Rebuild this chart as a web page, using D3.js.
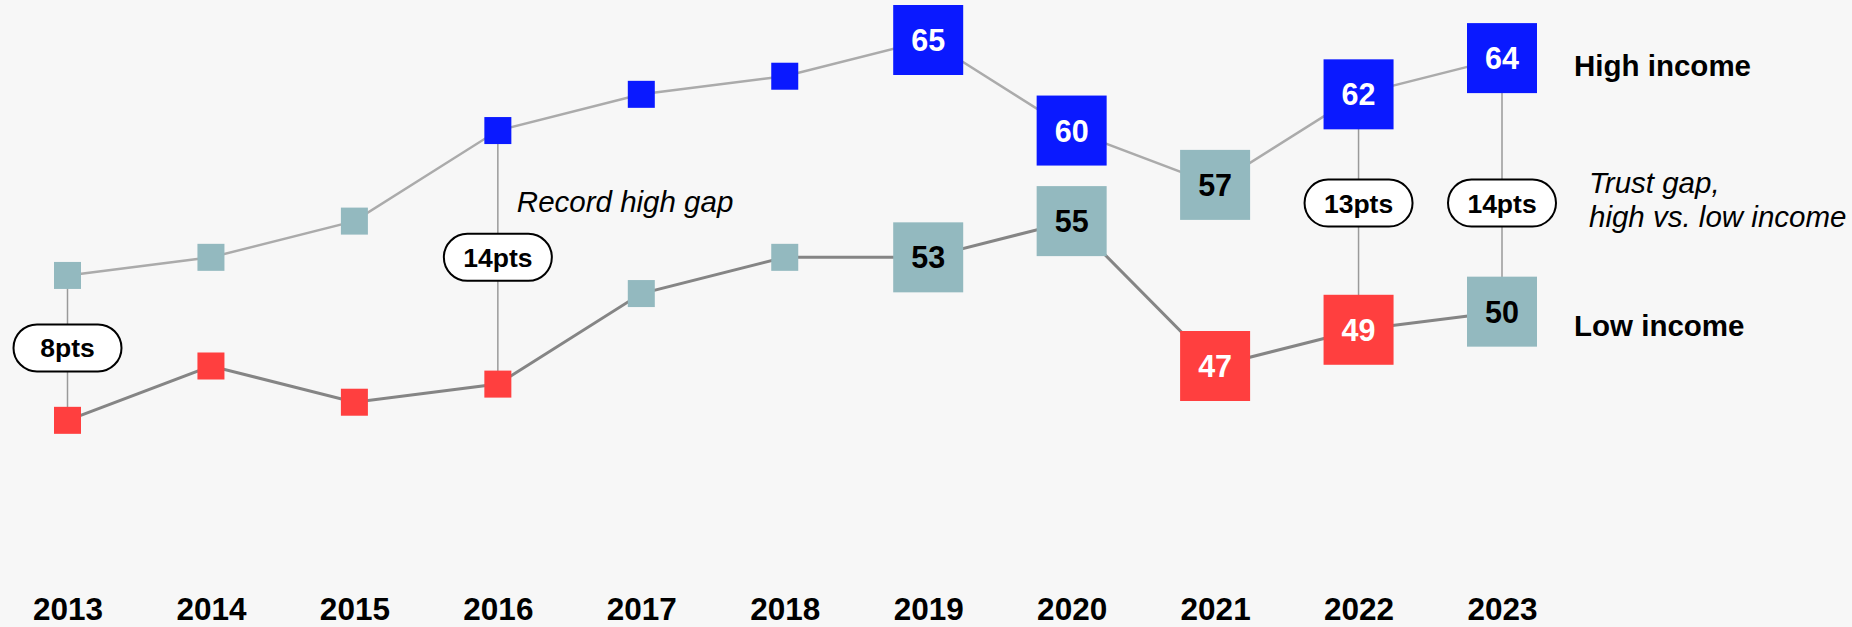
<!DOCTYPE html>
<html>
<head>
<meta charset="utf-8">
<script src="https://cdn.jsdelivr.net/npm/d3@7"></script>
<style>
  html, body { margin: 0; padding: 0; background: #f7f7f7; }
  svg { display: block; font-family: "Liberation Sans", Arial, sans-serif; }
</style>
</head>
<body>
<svg id="chart"></svg>
<script>
// data
const years = [2013, 2014, 2015, 2016, 2017, 2018, 2019, 2020, 2021, 2022, 2023];
const highIncome = [52, 53, 55, 60, 62, 63, 65, 60, 57, 62, 64];
const lowIncome = [44, 47, 45, 46, 51, 53, 53, 55, 47, 49, 50];
const seriesNames = ['High income', 'Low income'];
const gapYears = [2013, 2016, 2022, 2023];
const gapLabelLevel = [48, 53, 56, 56];   // value level where the pill sits
const valueLabelFrom = 2019;              // years from here get big labelled squares
const trustBreaks = [50, 60];             // distrust < 50 <= neutral < 60 <= trust

const width = 1852, height = 627;

const svg = d3.select('#chart')
	.attr('width', width)
	.attr('height', height)
	.attr('viewBox', `0 0 ${width} ${height}`);

const x = d3.scalePoint()
	.domain(years)
	.range([67.5, 1502]);

const y = d3.scaleLinear()
	.domain([47, 65])
	.range([366, 40]);

const color = d3.scaleThreshold()
	.domain(trustBreaks)
	.range(['#ff3f3f', '#93b9bf', '#0a19ff']);

const high = years.map((d, i) => ({ year: d, value: highIncome[i] }));
const low = years.map((d, i) => ({ year: d, value: lowIncome[i] }));

const line = d3.line()
	.x(d => x(d.year))
	.y(d => y(d.value));

// gap connectors
const gaps = gapYears.map((yr, i) => {
	let idx = years.indexOf(yr);
	return { year: yr, hi: highIncome[idx], lo: lowIncome[idx], level: gapLabelLevel[i] };
});

svg.append('g')
	.selectAll('line')
	.data(gaps)
	.join('line')
	.attr('x1', d => x(d.year))
	.attr('x2', d => x(d.year))
	.attr('y1', d => y(d.hi))
	.attr('y2', d => y(d.lo))
	.attr('stroke', '#9a9a9a')
	.attr('stroke-width', 1.5);

// series lines
svg.append('path')
	.datum(high)
	.attr('d', line)
	.attr('fill', 'none')
	.attr('stroke', '#ababab')
	.attr('stroke-width', 2.5);

svg.append('path')
	.datum(low)
	.attr('d', line)
	.attr('fill', 'none')
	.attr('stroke', '#858585')
	.attr('stroke-width', 3);

// squares
const big = 70, small = 27;
const size = d => d.year >= valueLabelFrom ? big : small;

[high, low].forEach(series => {
	let g = svg.append('g');

	g.selectAll('rect')
		.data(series)
		.join('rect')
		.attr('x', d => x(d.year) - size(d) / 2)
		.attr('y', d => y(d.value) - size(d) / 2)
		.attr('width', size)
		.attr('height', size)
		.attr('fill', d => color(d.value));

	g.selectAll('text')
		.data(series.filter(d => d.year >= valueLabelFrom))
		.join('text')
		.attr('x', d => x(d.year))
		.attr('y', d => y(d.value) + 11)
		.attr('text-anchor', 'middle')
		.attr('font-size', 30.5)
		.attr('font-weight', 'bold')
		.attr('fill', d => color(d.value) === '#93b9bf' ? '#000' : '#fff')
		.text(d => d.value);
});

// gap pills
const pill = svg.append('g')
	.selectAll('g')
	.data(gaps)
	.join('g')
	.attr('transform', d => `translate(${x(d.year)},${y(d.level)})`);

pill.append('rect')
	.attr('x', -54)
	.attr('y', -23.5)
	.attr('width', 108)
	.attr('height', 47)
	.attr('rx', 23.5)
	.attr('fill', '#fff')
	.attr('stroke', '#000')
	.attr('stroke-width', 2);

pill.append('text')
	.attr('text-anchor', 'middle')
	.attr('y', 9.5)
	.attr('font-size', 26.5)
	.attr('font-weight', 'bold')
	.text(d => `${d.hi - d.lo}pts`);

// series labels
const last = years.length - 1;
svg.append('text')
	.attr('x', x(years[last]) + 72)
	.attr('y', y(highIncome[last]) + 18)
	.attr('font-size', 29.5)
	.attr('font-weight', 'bold')
	.text(seriesNames[0]);

svg.append('text')
	.attr('x', x(years[last]) + 72)
	.attr('y', y(lowIncome[last]) + 24)
	.attr('font-size', 29.5)
	.attr('font-weight', 'bold')
	.text(seriesNames[1]);

// annotations
svg.append('text')
	.attr('x', x(2016) + 19)
	.attr('y', 212)
	.attr('font-size', 29.5)
	.attr('font-style', 'italic')
	.text('Record high gap');

const note = svg.append('text')
	.attr('x', x(2023) + 87)
	.attr('y', 193)
	.attr('font-size', 29.5)
	.attr('font-style', 'italic');
note.append('tspan').text('Trust gap,');
note.append('tspan').attr('x', x(2023) + 87).attr('dy', 34).text('high vs. low income');

// year axis
const axis = svg.append('g')
	.call(d3.axisBottom(x).tickSize(0).tickPadding(0));
axis.select('.domain').remove();
axis.selectAll('text')
	.attr('y', 620)
	.attr('dy', null)
	.attr('font-size', 31.5)
	.attr('font-weight', 'bold')
	.attr('font-family', '"Liberation Sans", Arial, sans-serif')
	.attr('fill', '#000');
</script>
</body>
</html>
